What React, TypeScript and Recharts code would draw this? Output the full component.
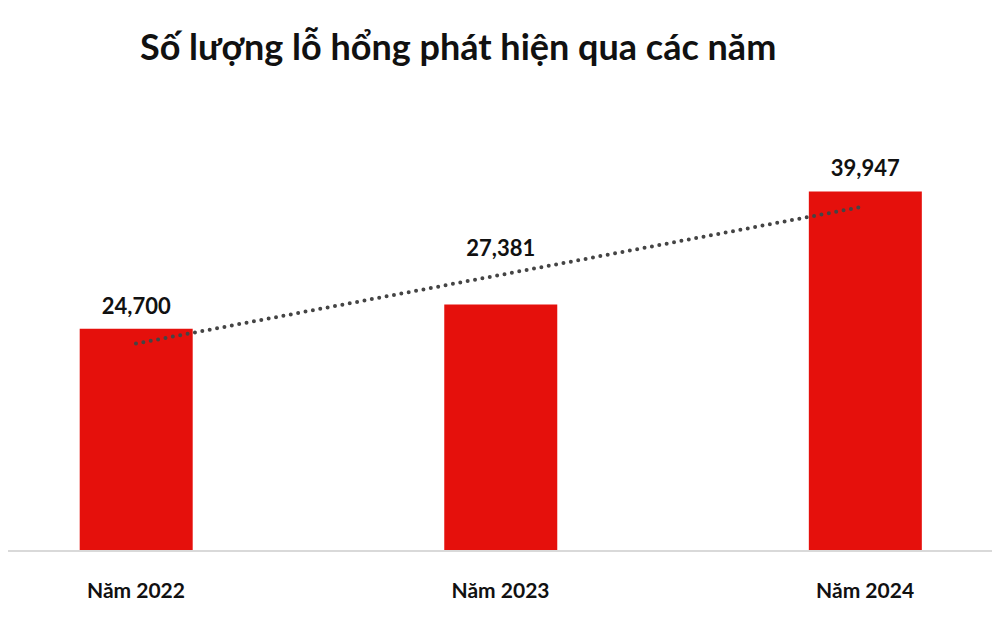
import { Bar, ComposedChart, LabelList, Line, XAxis, YAxis } from 'recharts'

const YEARS = ['Năm 2022', 'Năm 2023', 'Năm 2024']
const VULNS = [24700, 27381, 39947]
// linear trendline at each bar centre
const TREND = [23050, 30680, 38300]

const BAR_COLOR = '#e5100c'
const LABEL_LIFT = [0, 34, 0]

const data = YEARS.map((year, i) => ({
  idx: i,
  year,
  value: VULNS[i],
  trend: TREND[i],
}))

const fmt = (v: number) => v.toLocaleString('en-US')

const YearTick = (props: any) => {
  const { x, y, payload } = props
  return (
    <text
      x={x}
      y={y + 39}
      textAnchor="middle"
      fill="#111"
      fontFamily="Lato, sans-serif"
      fontWeight={700}
      fontSize={21}
    >
      {YEARS[payload.value]}
    </text>
  )
}

const ValueLabel = (props: any) => {
  const { x, y, width, value, index } = props
  return (
    <text
      x={x + width / 2}
      y={y - 15 - (LABEL_LIFT[index] || 0)}
      textAnchor="middle"
      fill="#111"
      fontFamily="Lato, sans-serif"
      fontWeight={700}
      fontSize={22}
    >
      {fmt(value)}
    </text>
  )
}

export default function App() {
  return (
    <div style={{ margin: -8, position: 'relative', width: 1000, height: 628, background: '#fff' }}>
      <div
        style={{
          position: 'absolute',
          left: 140,
          top: 24,
          fontFamily: 'Lato, sans-serif',
          fontWeight: 700,
          fontSize: 36,
          color: '#111',
          whiteSpace: 'nowrap',
        }}
      >
        Số lượng lỗ hổng phát hiện qua các năm
      </div>
      <ComposedChart
        width={1000}
        height={628}
        data={data}
        margin={{ top: 155, right: 0, bottom: 0, left: 0 }}
      >
        <XAxis
          dataKey="idx"
          type="number"
          domain={[-0.373, 2.37]}
          ticks={[0, 1, 2]}
          allowDataOverflow
          height={77}
          tickLine={false}
          axisLine={{ stroke: '#d9d9d9', strokeWidth: 2 }}
          tick={<YearTick />}
        />
        <YAxis hide domain={[0, 44000]} />
        <Bar dataKey="value" fill={BAR_COLOR} barSize={113} isAnimationActive={false}>
          <LabelList dataKey="value" content={<ValueLabel />} />
        </Bar>
        <Line
          dataKey="trend"
          type="linear"
          stroke="#444"
          strokeWidth={4}
          strokeDasharray="0 7.5"
          strokeLinecap="round"
          dot={false}
          activeDot={false}
          isAnimationActive={false}
        />
      </ComposedChart>
    </div>
  )
}
